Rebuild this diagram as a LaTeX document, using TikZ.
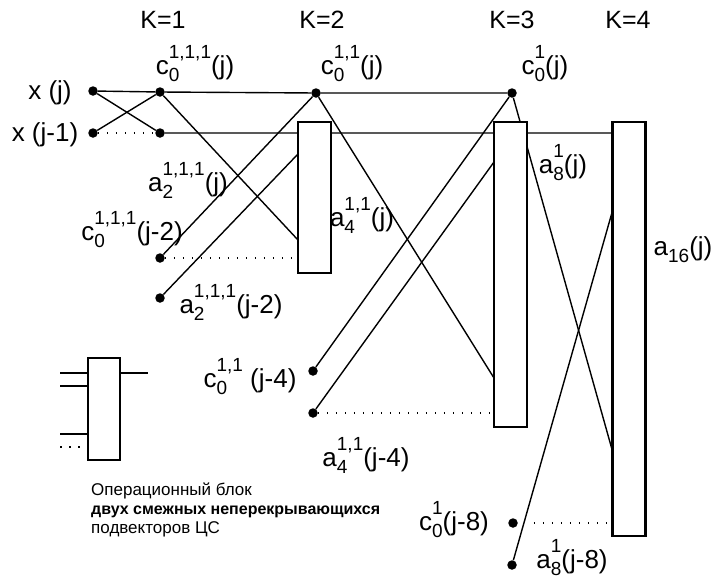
\documentclass[tikz,border=0pt]{standalone}
\usepackage{fontspec}
\setmainfont{Liberation Sans}
\usetikzlibrary{backgrounds}
\tikzstyle{pt} = [circle, fill, inner sep=0pt, minimum size=9.5pt]
\tikzstyle{blk} = [draw, fill=white, line width=2.4pt, inner sep=0pt, minimum width=33pt]
\tikzstyle{lbl} = [font=\fontsize{26}{28}\selectfont, inner sep=0pt]
\tikzstyle{hdr} = [font=\fontsize{25}{27}\selectfont, inner sep=0pt]
\tikzstyle{txt} = [font=\fontsize{17}{19}\selectfont, inner sep=0pt, anchor=base west]
\tikzstyle{wire} = [line width=1.4pt]
\tikzstyle{dots} = [line width=1.5pt, dash pattern=on 1.5pt off 7.5pt]
% index: subscript #1, superscript #2
\newcommand{\ix}[2]{\rlap{\raisebox{-7pt}{\fontsize{19}{19}\selectfont#1}}\raisebox{16pt}{\fontsize{19}{19}\selectfont#2}}
\newcommand{\sbx}[1]{\raisebox{-7pt}{\fontsize{19}{19}\selectfont#1}}

\begin{document}
\begin{tikzpicture}[x=1pt, y=-1pt]
    \useasboundingbox (0,0) rectangle (715,584);
    % headers
    \node[hdr] (h1) at (163,20) {K=1};
    \node[hdr] (h2) at (322,20) {K=2};
    \node[hdr] (h3) at (512,20) {K=3};
    \node[hdr] (h4) at (628,20) {K=4};
    % points
    \node[pt] (xj) at (93,91) {};
    \node[pt] (xjj) at (93,133) {};
    \node[pt] (t1) at (160,92) {};
    \node[pt] (b1) at (160,133) {};
    \node[pt] (t2) at (316,93) {};
    \node[pt] (t3) at (512,93) {};
    \node[pt] (c2) at (160,258) {};
    \node[pt] (a2) at (160,298) {};
    \node[pt] (c4) at (313,371) {};
    \node[pt] (a4) at (313,413) {};
    \node[pt] (c8) at (513,523) {};
    \node[pt] (a8) at (512,565) {};
    % blocks
    \node[blk, minimum height=151pt] (k2) at (314.5,197.5) {};
    \node[blk, minimum height=305pt] (k3) at (510.5,274.5) {};
    \node[blk, minimum height=414pt] (k4) at (629,329) {};
    \coordinate (k2a) at (298,154);
    \coordinate (k2b) at (298,240);
    \coordinate (k2c) at (298,258);
    \coordinate (k3a) at (494,162);
    \coordinate (k3b) at (494,378);
    \coordinate (k3c) at (494,413);
    \coordinate (k4a) at (613,133);
    \coordinate (k4b) at (613,209);
    \coordinate (k4c) at (613,453);
    \coordinate (k4d) at (613,523);
    \begin{pgfonlayer}{background}
    \draw[wire] (xj) -- (t1) -- (t2) -- (t3)
        (b1) -- (k4a)
        (xj) edge (b1)
        (xjj) edge (t1)
        (t1) edge (k2b)
        (c2) edge (t2)
        (a2) edge (k2a)
        (t2) edge (k3b)
        (c4) edge (t3)
        (a4) edge (k3a)
        (t3) edge (k4c)
        (a8) edge (k4b);
    \draw[dots] (xjj) -- (b1)
        (c2) -- (k2c)
        (a4) -- (k3c);
    \draw[dots, shorten <=16pt] (c8) -- (k4d);
    \end{pgfonlayer}
    % labels
    \node[lbl] (lxj) at (50,93) {x (j)};
    \node[lbl] (lxjj) at (45,135) {x (j-1)};
    \node[lbl] (lt1) at (195,64) {c\ix{0}{1,1,1}(j)};
    \node[lbl] (lt2) at (352,64) {c\ix{0}{1,1}(j)};
    \node[lbl] (lt3) at (545,64) {c\ix{0}{1}(j)};
    \node[lbl] (lb1) at (188,180) {a\ix{2}{1,1,1}(j)};
    \node[lbl] (lc2) at (132,230) {c\ix{0}{1,1,1}(j-2)};
    \node[lbl] (la2) at (231,302) {a\ix{2}{1,1,1}(j-2)};
    \node[lbl] (lk2) at (362,215) {a\ix{4}{1,1}(j)};
    \node[lbl] (lk3) at (563,163) {a\ix{8}{1}(j)};
    \node[lbl] (lk4) at (683,250) {a\sbx{16}(j)};
    \node[lbl] (lc4) at (250,377) {c\ix{0}{1,1} (j-4)};
    \node[lbl] (la4) at (366,455) {a\ix{4}{1,1}(j-4)};
    \node[lbl] (lc8) at (454,520) {c\ix{0}{1}(j-8)};
    \node[lbl] (la8) at (572,558) {a\ix{8}{1}(j-8)};
    % legend
    \node[blk, line width=1.8pt, minimum width=32pt, minimum height=102pt] (op) at (104,409) {};
    \coordinate (i1) at (60,373);
    \coordinate (i2) at (60,386);
    \coordinate (i3) at (60,434);
    \coordinate (i4) at (60,447);
    \coordinate (o1) at (148,373);
    \draw[wire] (i1) -- (i1 -| op.west)
        (i2) -- (i2 -| op.west)
        (i3) -- (i3 -| op.west)
        (o1 -| op.east) -- (o1);
    \draw[dots] (i4) -- (i4 -| op.west);
    \node[txt] (n1) at (91,495) {Операционный блок};
    \node[txt, font=\fontsize{16}{18}\selectfont\bfseries] (n2) at (91,514) {двух смежных неперекрывающихся};
    \node[txt] (n3) at (91,533) {подвекторов ЦС};
\end{tikzpicture}
\end{document}
